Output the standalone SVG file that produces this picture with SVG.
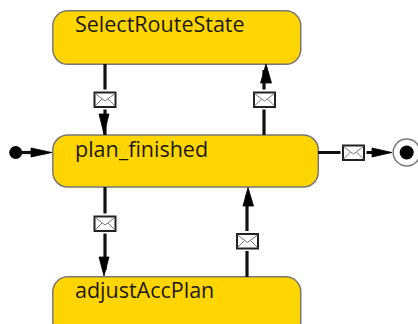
<svg xmlns="http://www.w3.org/2000/svg" width="418" height="324" viewBox="0 0 418 324">
<defs>
<g id="env"><rect x="-13" y="-10" width="26" height="20" fill="#fff"/><rect x="-10.500" y="-7" width="21" height="14.500" fill="#fff" stroke="#222" stroke-width="2"/><path d="M-10-6L0 1.500L10-6M-10 6.500L-3-.5M10 6.500L3-.5" fill="none" stroke="#777" stroke-width="1"/></g>
</defs>
<style>
.n{fill:#ffd500;stroke:#777;stroke-width:1.5}
.t{font-family:"Open Sans","DejaVu Sans",sans-serif;font-size:21.500px;fill:#1a1a00}
.c{stroke:#111;stroke-width:3.200;fill:none}
.h{fill:#000;stroke:#000;stroke-width:.8}
</style>
<g id="SelectRouteState"><rect class="n" x="52.800" y="10.800" width="248" height="53.500" rx="15"/><text class="t" x="75" y="32">SelectRouteState</text></g>
<g id="plan_finished"><rect class="n" x="52.800" y="135" width="265.500" height="52" rx="15"/><text class="t" x="75" y="156.500">plan_finished</text></g>
<g id="adjustAccPlan"><rect class="n" x="52.800" y="276.800" width="248" height="60" rx="15"/><text class="t" x="75" y="298">adjustAccPlan</text></g>
<g id="start"><circle cx="15.700" cy="152.500" r="6.500" fill="#000"/></g>
<g id="end"><circle cx="406.700" cy="152.500" r="13.500" fill="#fff" stroke="#777" stroke-width="1.500"/><circle cx="406.700" cy="152.500" r="7" fill="#000"/></g>
<g id="connectors">
<path class="c" d="M105 64V135"/><path class="h" d="M99 114H109L104 134Z"/>
<path class="c" d="M264 135V70"/><path class="h" d="M260.500 83H271.500L266 64Z"/>
<path class="c" d="M105 187V270"/><path class="h" d="M99 257H109L104 276Z"/>
<path class="c" d="M247 277V195"/><path class="h" d="M243 206H253.500L248 187.500Z"/>
<path class="c" d="M20 152.500H40"/><path class="h" d="M31 148L52 152.500L31 157Z"/>
<path class="c" d="M318 152.500H380"/><path class="h" d="M372 148L392 152.500L372 157Z"/>
<use href="#env" x="105" y="99.500"/>
<use href="#env" x="264.500" y="99.500"/>
<use href="#env" x="105" y="223.500"/>
<use href="#env" x="247.500" y="241"/>
<use href="#env" x="353.500" y="152.500"/>
</g>
</svg>
